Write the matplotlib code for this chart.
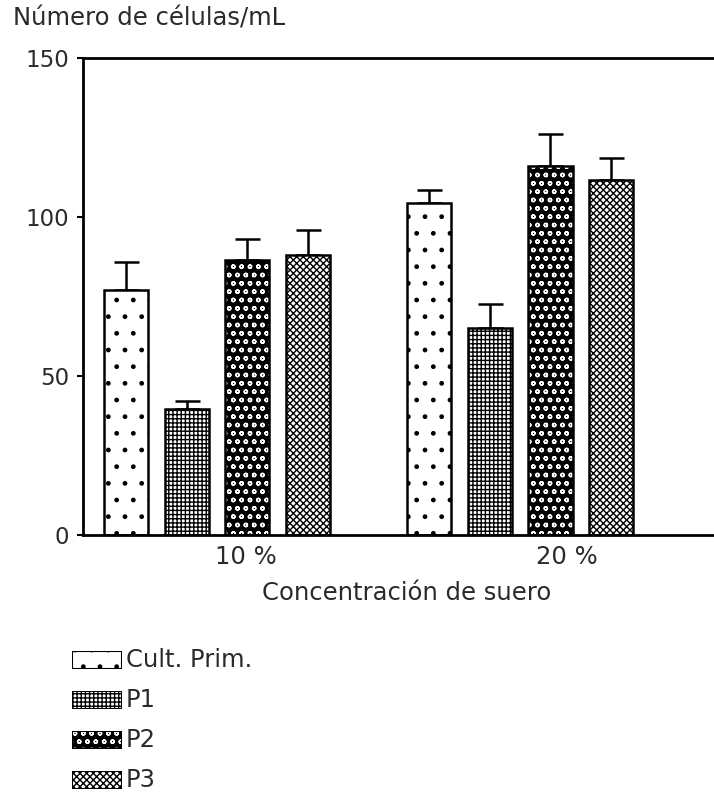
import matplotlib
matplotlib.use("Agg")
import matplotlib.pyplot as plt
import numpy as np

groups = ["10 %", "20 %"]
series = ["Cult. Prim.", "P1", "P2", "P3"]
values = {
    "Cult. Prim.": [77, 104.5],
    "P1": [39.5, 65],
    "P2": [86.5, 116],
    "P3": [88, 111.5],
}
errors = {
    "Cult. Prim.": [9, 4],
    "P1": [2.5, 7.5],
    "P2": [6.5, 10],
    "P3": [8, 7],
}

group_start = [0.136, 1.098]
step = 0.193
bar_w = 0.14
tick_pos = [0.517, 1.537]

styles = {
    "Cult. Prim.": dict(face="white", hatch=".", hcolor="black"),
    "P1": dict(face="white", hatch="++++", hcolor="black"),
    "P2": dict(face="black", hatch="oo", hcolor="white"),
    "P3": dict(face="white", hatch="xxxxx", hcolor="black"),
}

plt.rcParams['hatch.linewidth'] = 1.0
plt.rcParams['font.family'] = ['DejaVu Sans']
TXT = '#2a2a2a'

fig = plt.figure(figsize=(7.14, 7.94), dpi=100)
ax = fig.add_axes([83/714, 259/794, 630/714, 477/794])

for j, s in enumerate(series):
    st = styles[s]
    xs = [group_start[i] + j*step for i in range(len(groups))]
    ax.bar(xs, values[s], width=bar_w, color=st["face"], edgecolor=st["hcolor"],
           hatch=st["hatch"], linewidth=0, zorder=2)
    ax.bar(xs, values[s], width=bar_w, color="none", edgecolor="black",
           linewidth=1.8, zorder=3)
    ax.errorbar(xs, values[s], yerr=[np.zeros(len(xs)), errors[s]], fmt="none",
                ecolor="black", elinewidth=1.8, capsize=9, capthick=1.8, zorder=1)

ax.set_xlim(0, 2)
ax.set_ylim(0, 150)
ax.set_yticks([0, 50, 100, 150])
ax.set_xticks(tick_pos)
ax.set_xticklabels(groups)
ax.tick_params(axis='y', length=4, width=1.5, labelsize=16.5, pad=6)
ax.tick_params(axis='x', length=0, labelsize=17.5, pad=7)
for sp in ['left', 'bottom', 'top']:
    ax.spines[sp].set_linewidth(2)
ax.spines['right'].set_visible(False)
for lab in ax.get_yticklabels() + ax.get_xticklabels():
    lab.set_color(TXT)

ax.text((407 - 83) / 630, (535 - 593) / 477, "Concentración de suero",
        transform=ax.transAxes, fontsize=17.5, color=TXT, ha='center', va='center')
fig.text(13/714, 1 - 18/794, "Número de células/mL", fontsize=17.5, color=TXT,
         va='center', ha='left')

# legend
ys = [660, 700, 740, 780]
for j, s in enumerate(series):
    st = styles[s]
    y = ys[j]
    rax = fig.add_axes([72/714, 1 - (y + 9)/794, 50/714, 18/794])
    rax.set_axis_off()
    rax.set_xlim(0, 1); rax.set_ylim(0, 1)
    rax.bar([0.5], [1], width=1, color=st["face"], edgecolor=st["hcolor"],
            hatch=st["hatch"], linewidth=0)
    rax.bar([0.5], [1], width=1, color="none", edgecolor="black", linewidth=1.5)
    fig.text(126/714, 1 - y/794, s, fontsize=17.5, color=TXT, va='center', ha='left')

fig.savefig("out.png", dpi=100)
